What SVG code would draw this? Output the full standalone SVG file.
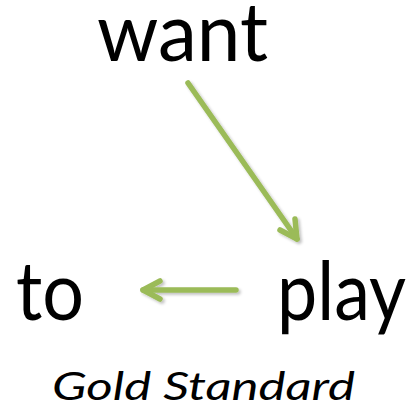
<svg xmlns="http://www.w3.org/2000/svg" width="416" height="414" viewBox="0 0 416 414">
  <style>
    .word { font-family: Lato, "Open Sans", "Liberation Sans", sans-serif; font-size: 81px; fill: #000; }
    .caption { font-family: Lato, "Open Sans", "Liberation Sans", sans-serif; font-size: 39px; font-style: italic; fill: #000; }
    .edge { fill: none; stroke: #9BBB59; stroke-width: 5.5; stroke-linecap: round; stroke-linejoin: round; }
  </style>
  <defs>
    <filter id="shadow" x="-20%" y="-20%" width="140%" height="140%">
      <feGaussianBlur in="SourceAlpha" stdDeviation="1.5"/>
      <feOffset dx="1.5" dy="1.5" result="b"/>
      <feComponentTransfer><feFuncA type="linear" slope="0.25"/></feComponentTransfer>
      <feMerge><feMergeNode/><feMergeNode in="SourceGraphic"/></feMerge>
    </filter>
  </defs>
  <rect width="416" height="414" fill="#fff"/>

  <g id="node-want"><text class="word" x="97" y="61" textLength="171" lengthAdjust="spacingAndGlyphs">want</text></g>
  <g id="node-to"><text class="word" x="16" y="320" textLength="68" lengthAdjust="spacingAndGlyphs">to</text></g>
  <g id="node-play"><text class="word" x="277" y="320" textLength="129" lengthAdjust="spacingAndGlyphs">play</text></g>

  <g id="connectors" filter="url(#shadow)">
    <!-- want -> play -->
    <path class="edge" d="M188 83 L297 239"/>
    <path class="edge" d="M295 219 L297 239 L280 230"/>
    <!-- play -> to -->
    <path class="edge" d="M236 290 L143 290"/>
    <path class="edge" d="M160 281 L143 290 L160 299"/>
  </g>

  <g id="caption"><text class="caption" x="52" y="400" textLength="303" lengthAdjust="spacingAndGlyphs">Gold Standard</text></g>
</svg>
